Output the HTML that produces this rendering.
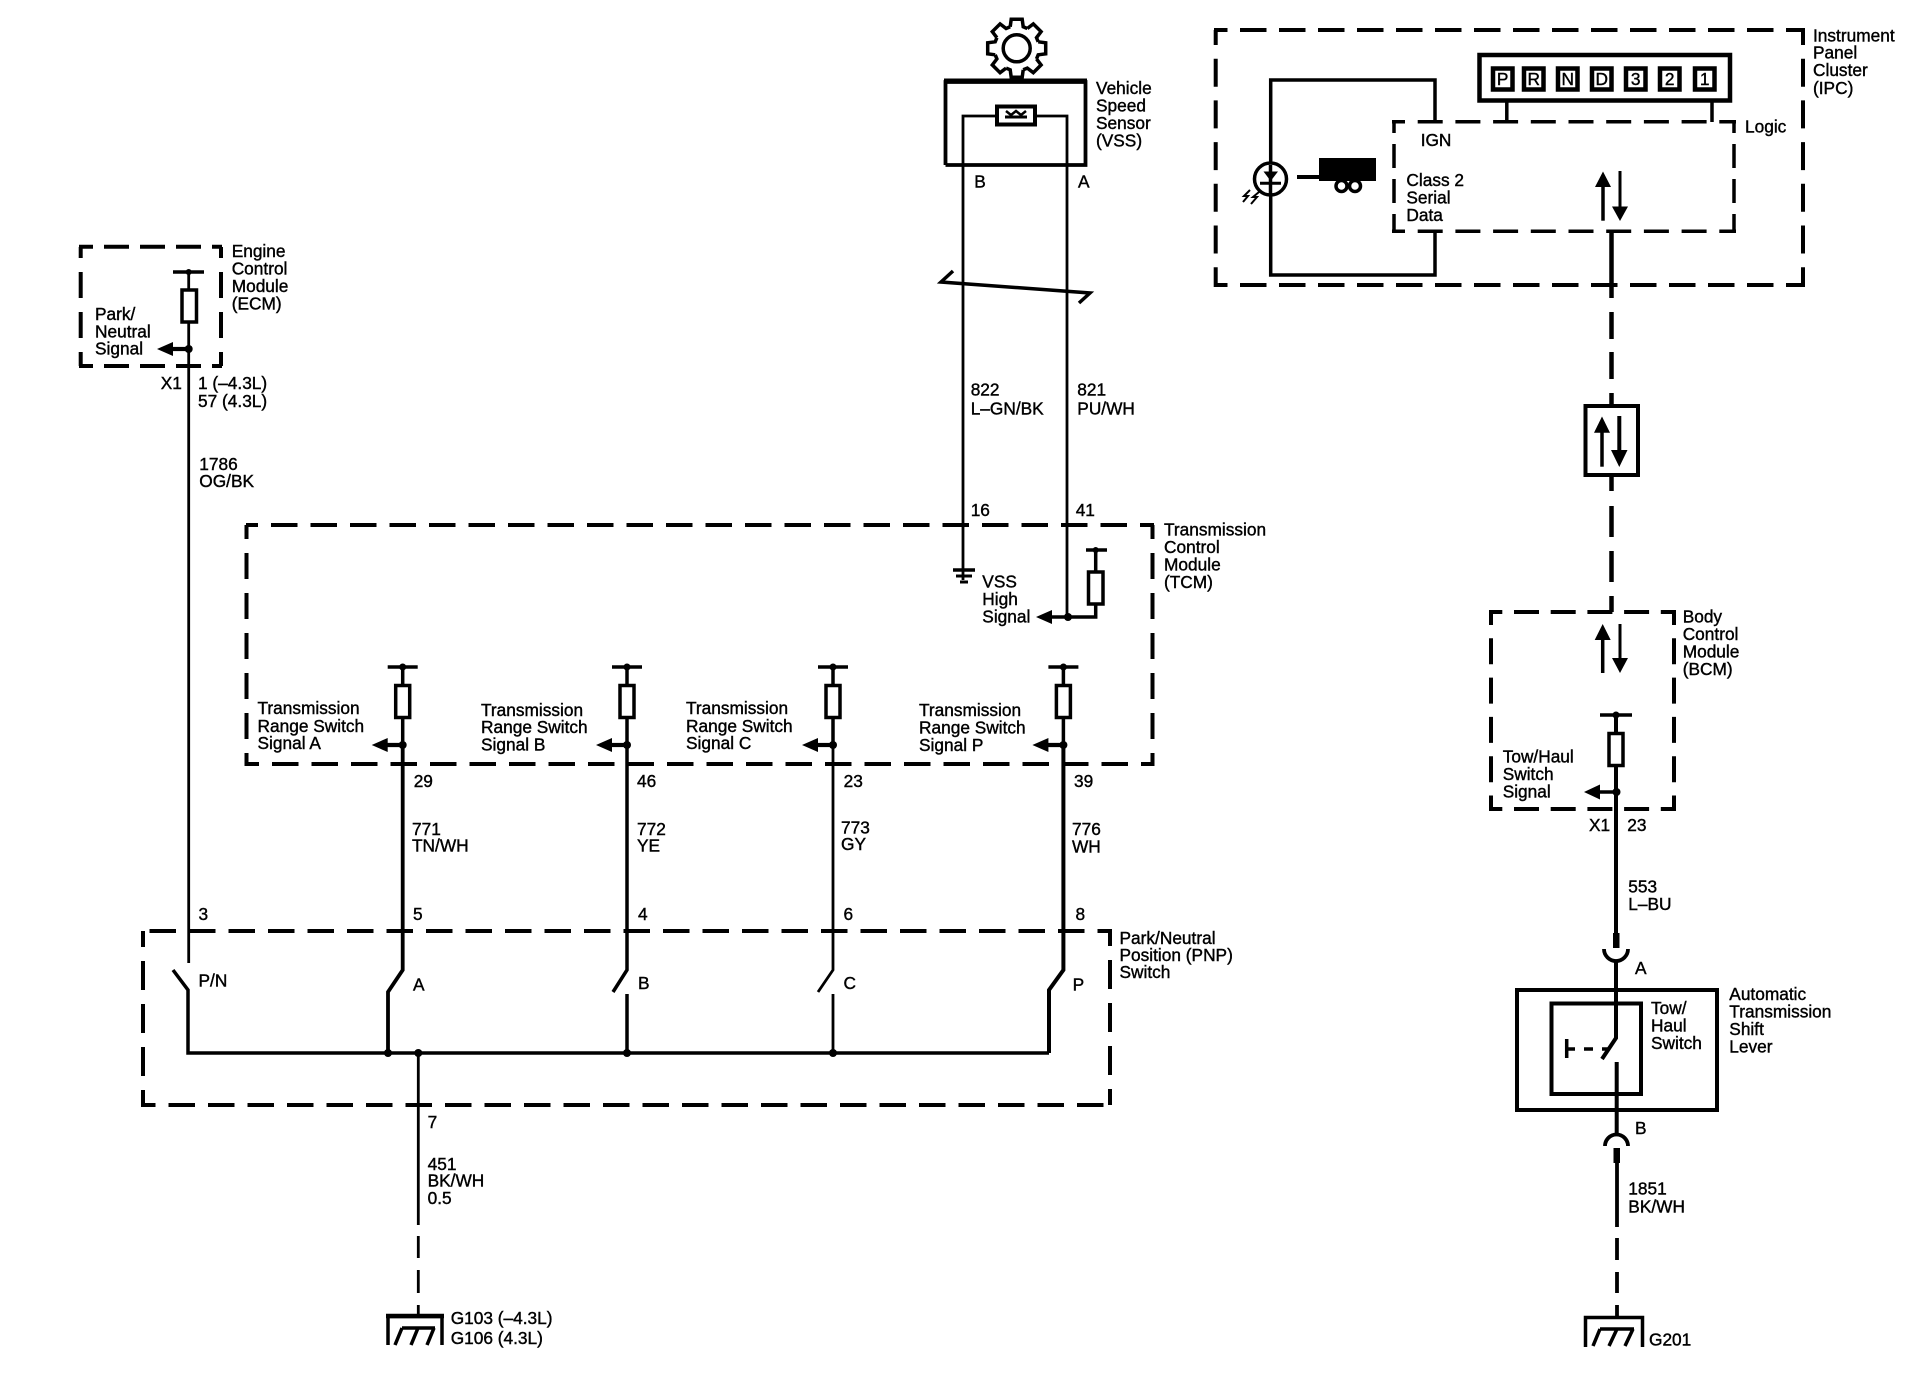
<!DOCTYPE html>
<html><head><meta charset="utf-8"><style>
html,body{margin:0;padding:0;background:#fff;width:1924px;height:1392px;overflow:hidden}
svg{display:block}
text{font-family:"Liberation Sans",sans-serif;font-size:17.3px;fill:#000;stroke:#000;stroke-width:.4}
.w{fill:none;stroke:#000;stroke-width:3.5}
.t{fill:none;stroke:#000;stroke-width:2.8}
.d{fill:none;stroke:#000;stroke-width:4}
</style></head><body>
<svg width="1924" height="1392" viewBox="0 0 1924 1392" xmlns="http://www.w3.org/2000/svg">
<defs>
<g id="pull">
<path class="w" d="M-15 0H15M0 0V18M0 51V79"/><circle cx="0" cy="0" r="3.500" fill="#000"/>
<rect x="-7" y="18.500" width="14" height="32" fill="#fff" stroke="#000" stroke-width="3.500"/>
<path d="M-16 78H0" fill="none" stroke="#000" stroke-width="4.200"/><path d="M-31 78L-15 71V85Z" fill="#000"/><circle cx="0" cy="78" r="4" fill="#000"/>
</g>
<path id="tooth" fill="none" stroke="#000" stroke-width="3.500" d="M-6.500 -21.500L-5.500 -29H5.500L6.500 -21.500L10.600 -19.800"/>
</defs>

<!-- gear -->
<g transform="translate(1016.700 48.300)">
<use href="#tooth"/><use href="#tooth" transform="rotate(45)"/><use href="#tooth" transform="rotate(90)"/><use href="#tooth" transform="rotate(135)"/><use href="#tooth" transform="rotate(180)"/><use href="#tooth" transform="rotate(225)"/><use href="#tooth" transform="rotate(270)"/><use href="#tooth" transform="rotate(315)"/>
<circle r="13.500" fill="none" stroke="#000" stroke-width="3.500"/>
</g>

<!-- VSS -->
<path d="M945.500 165V82H1085.500V165H945.500" fill="none" stroke="#000" stroke-width="3.800"/>
<path d="M944 81H1087" stroke="#000" stroke-width="5"/>
<path class="t" d="M963 580V116H1067V617"/>
<rect x="997" y="106.500" width="38" height="18" fill="#fff" stroke="#000" stroke-width="4"/>
<path d="M1005 117H1027" stroke="#000" stroke-width="3"/>
<path d="M1006 111L1011 115L1016 111L1021 115L1026 111" fill="none" stroke="#000" stroke-width="2.500"/>
<path class="w" d="M953 271L941 282L1090 293L1079 303"/>
<path d="M953 570H975" stroke="#000" stroke-width="3.500"/><path d="M956 576H972" stroke="#000" stroke-width="3"/><path d="M960 582H968" stroke="#000" stroke-width="3"/>

<!-- VSS high pull -->
<path class="w" d="M1086 550H1107M1095.700 550V572M1095.700 604V617H1051"/>
<circle cx="1095.700" cy="550" r="3" fill="#000"/>
<rect x="1088.500" y="572" width="14.500" height="32" fill="#fff" stroke="#000" stroke-width="3.500"/>
<path d="M1036 617L1052 610V624Z" fill="#000"/><circle cx="1068" cy="617" r="4" fill="#000"/>

<!-- ECM -->
<path class="d" d="M80.700 366V247" stroke-dasharray="26 14" stroke-dashoffset="12"/>
<path class="d" d="M221 366V247" stroke-dasharray="26 14" stroke-dashoffset="12"/>
<path class="d" d="M79 246.700H222" stroke-dasharray="25 11" stroke-dashoffset="11"/>
<path class="d" d="M79 366H222" stroke-dasharray="25 11" stroke-dashoffset="11"/>
<path class="w" d="M173 272H204" stroke-width="4"/>
<path class="t" d="M188.700 272V290M188.700 322V963"/>
<circle cx="188.700" cy="272" r="3" fill="#000"/>
<rect x="182" y="290" width="14.500" height="32" fill="#fff" stroke="#000" stroke-width="3.500"/>
<path d="M172 349H188" fill="none" stroke="#000" stroke-width="4.200"/><path d="M157 349L173 342V356Z" fill="#000"/><circle cx="188.700" cy="349" r="4" fill="#000"/>

<!-- TCM -->
<path class="d" d="M1154 525H246" stroke-dasharray="26.500 13" stroke-dashoffset="12.500"/>
<path class="d" d="M245 764H1154" stroke-dasharray="26.500 13" stroke-dashoffset="12.500"/>
<path class="d" d="M246.500 525V766" stroke-dasharray="26 14" stroke-dashoffset="12"/>
<path class="d" d="M1152.500 525V766" stroke-dasharray="26 14" stroke-dashoffset="12"/>

<use href="#pull" x="402.700" y="667"/><use href="#pull" x="627" y="667"/><use href="#pull" x="833" y="667"/><use href="#pull" x="1063.400" y="667"/>
<path d="M402.700 745V970L388 992V1053" fill="none" stroke="#000" stroke-width="3.800"/>
<path d="M627 745V970L613 992M627 994V1053" fill="none" stroke="#000" stroke-width="3.500"/>
<path d="M833 745V970L818 992M833 994V1053" fill="none" stroke="#000" stroke-width="2.800"/>
<path d="M1063.400 745V970L1049 990V1053" fill="none" stroke="#000" stroke-width="4"/>

<!-- PNP -->
<path class="d" d="M143 1105V931" stroke-dasharray="29 14" stroke-dashoffset="14"/>
<path class="d" d="M1110 931V1105" stroke-dasharray="29 14" stroke-dashoffset="14"/>
<path class="d" d="M1112 931H141" stroke-dasharray="26.500 13" stroke-dashoffset="12"/>
<path class="d" d="M141 1105H1112" stroke-dasharray="26.500 13" stroke-dashoffset="12"/>
<path class="w" d="M173 970L188 990V1053H1049"/>
<circle cx="388" cy="1053" r="4" fill="#000"/><circle cx="418.300" cy="1053" r="4" fill="#000"/><circle cx="627" cy="1053" r="4" fill="#000"/><circle cx="833" cy="1053" r="4" fill="#000"/>
<path d="M418.300 1053V1225M418.300 1236V1258M418.300 1270V1293M418.300 1305V1316" stroke="#000" stroke-width="2.800" fill="none"/>
<path class="w" d="M388 1345V1316.500H442V1345"/>
<path d="M386 1316H444" stroke="#000" stroke-width="4.500"/>
<path d="M402 1328H435M402 1328L395 1345M418 1328L411 1345M434 1328L427 1345" fill="none" stroke="#000" stroke-width="3.500"/>

<!-- IPC -->
<path class="d" d="M1214 30H1805" stroke-dasharray="26.500 12.500" stroke-dashoffset="13"/>
<path class="d" d="M1214 285H1805" stroke-dasharray="26.500 12.500" stroke-dashoffset="13"/>
<path class="d" d="M1215.700 30V287" stroke-dasharray="28 13.700" stroke-dashoffset="13"/>
<path class="d" d="M1803 30V287" stroke-dasharray="28 13.700" stroke-dashoffset="13"/>
<rect x="1479.500" y="55" width="250.500" height="45.500" fill="none" stroke="#000" stroke-width="4.500"/>
<g fill="#fff" stroke="#000" stroke-width="4.500">
<rect x="1493" y="68.500" width="19.500" height="21"/><rect x="1524" y="68.500" width="19.500" height="21"/><rect x="1558" y="68.500" width="19.500" height="21"/><rect x="1592" y="68.500" width="19.500" height="21"/><rect x="1626" y="68.500" width="19.500" height="21"/><rect x="1660" y="68.500" width="19.500" height="21"/><rect x="1695" y="68.500" width="19.500" height="21"/>
</g>
<path class="w" d="M1506.800 100V122M1712 100V122"/>
<path d="M1392 121.700H1736" stroke="#000" stroke-width="3.500" stroke-dasharray="25 12.700" stroke-dashoffset="12" fill="none"/>
<path d="M1392 231.300H1736" stroke="#000" stroke-width="3.500" stroke-dasharray="25 12.700" stroke-dashoffset="12" fill="none"/>
<path d="M1394 120V233" stroke="#000" stroke-width="3.500" stroke-dasharray="24 11" stroke-dashoffset="11" fill="none"/>
<path d="M1734 120V233" stroke="#000" stroke-width="3.500" stroke-dasharray="24 11" stroke-dashoffset="11" fill="none"/>
<path class="w" d="M1435 122V80H1270.700V275H1435V231"/>
<circle cx="1270.500" cy="179" r="16" fill="#fff" stroke="#000" stroke-width="3.500"/>
<path d="M1270.500 165V195" stroke="#000" stroke-width="3.500"/>
<path d="M1263.500 171.500H1278L1270.700 181Z" fill="#000"/><path d="M1260 183.300H1281" stroke="#000" stroke-width="3"/>
<path d="M1250 190L1244 196L1248 196L1243 202M1259 192L1253 197L1257 197L1251 204" fill="none" stroke="#000" stroke-width="2"/>
<rect x="1319" y="158" width="57" height="23" fill="#000"/>
<path d="M1297 177H1320" stroke="#000" stroke-width="4"/>
<circle cx="1341.500" cy="186" r="5.500" fill="#fff" stroke="#000" stroke-width="3.500"/><circle cx="1355" cy="186" r="5.500" fill="#fff" stroke="#000" stroke-width="3.500"/>
<path d="M1603 220.700V186" stroke="#000" stroke-width="3.500"/><path d="M1603 171.500L1611 187H1595Z" fill="#000"/>
<path d="M1620 171V207" stroke="#000" stroke-width="3"/><path d="M1620 221L1628 206.500H1612Z" fill="#000"/>

<!-- serial data -->
<path d="M1611.500 231V298M1611.500 312V339M1611.500 352V379M1611.500 393V405M1611.500 477V491M1611.500 506V537M1611.500 551V582M1611.500 596V612" stroke="#000" stroke-width="4.500" fill="none"/>
<rect x="1585.500" y="406" width="52.500" height="69" fill="none" stroke="#000" stroke-width="4"/>
<path d="M1602 466.700V431" stroke="#000" stroke-width="3.500"/><path d="M1602 416.500L1610 432.700H1594Z" fill="#000"/>
<path d="M1619.300 416V451" stroke="#000" stroke-width="4"/><path d="M1619.300 467L1627.500 450H1611Z" fill="#000"/>

<!-- BCM -->
<path class="d" d="M1489 612H1676" stroke-dasharray="25 11.700" stroke-dashoffset="11.700"/>
<path class="d" d="M1489 809H1676" stroke-dasharray="25 11.700" stroke-dashoffset="11.700"/>
<path class="d" d="M1491 612V811" stroke-dasharray="26 13.300" stroke-dashoffset="13"/>
<path class="d" d="M1674 612V811" stroke-dasharray="26 13.300" stroke-dashoffset="13"/>
<path d="M1602.700 673V638" stroke="#000" stroke-width="3.500"/><path d="M1602.700 624L1610.700 640H1594.700Z" fill="#000"/>
<path d="M1620 624V659" stroke="#000" stroke-width="3"/><path d="M1620 673L1628 658H1612Z" fill="#000"/>
<path class="w" d="M1600 715H1632"/><circle cx="1616" cy="715" r="3.500" fill="#000"/>
<path d="M1616 715V733M1616 766V934" stroke="#000" stroke-width="4" fill="none"/>
<rect x="1609" y="733.500" width="14" height="32" fill="#fff" stroke="#000" stroke-width="3.500"/>
<path class="w" d="M1600 792H1616" stroke-width="4"/><path d="M1584 792L1600 784.500V799.500Z" fill="#000"/><circle cx="1616.500" cy="792" r="4" fill="#000"/>
<rect x="1613" y="933" width="6.500" height="15" fill="#000"/>
<path d="M1604 949A12 12 0 0 0 1628 949" fill="none" stroke="#000" stroke-width="3.800"/>
<path d="M1616 960V1038L1602 1059" fill="none" stroke="#000" stroke-width="4"/>
<rect x="1517" y="990" width="200" height="120" fill="none" stroke="#000" stroke-width="4"/>
<rect x="1551.500" y="1003.500" width="89.500" height="90.500" fill="none" stroke="#000" stroke-width="4"/>
<path d="M1616.700 1062V1135" fill="none" stroke="#000" stroke-width="4"/>
<path d="M1566.700 1039V1058M1566 1049H1575M1584 1049H1593M1602 1049H1608" fill="none" stroke="#000" stroke-width="3.500"/>
<path d="M1605 1146A11.500 11.500 0 0 1 1628 1146" fill="none" stroke="#000" stroke-width="3.800"/>
<rect x="1613.500" y="1148" width="6.500" height="15" fill="#000"/>
<path d="M1617 1163V1227M1617 1238V1260M1617 1272V1293M1617 1305V1317" fill="none" stroke="#000" stroke-width="3.800"/>
<path class="w" d="M1585.500 1347V1317.500H1642.500V1347" stroke-width="4"/>
<path d="M1600 1329H1634M1600 1329L1593 1346M1617 1329L1609 1346M1633 1329L1625 1346" fill="none" stroke="#000" stroke-width="3.500"/>

<!-- text -->
<text x="231.700" y="257">Engine</text><text x="231.700" y="274.500">Control</text><text x="231.700" y="292">Module</text><text x="231.700" y="309.500">(ECM)</text>
<text x="95" y="320">Park/</text><text x="95" y="337.500">Neutral</text><text x="95" y="354.500">Signal</text>
<text x="160.700" y="389">X1</text><text x="198" y="389">1 (–4.3L)</text><text x="198" y="407">57 (4.3L)</text>
<text x="199.300" y="470">1786</text><text x="199.300" y="487">OG/BK</text>

<text x="1096" y="94">Vehicle</text><text x="1096" y="111.700">Speed</text><text x="1096" y="129">Sensor</text><text x="1096" y="146.700">(VSS)</text>
<text x="974.300" y="187.700">B</text><text x="1078" y="187.700">A</text>
<text x="970.700" y="395.700">822</text><text x="970.700" y="414.300">L–GN/BK</text>
<text x="1077.300" y="395.700">821</text><text x="1077.300" y="414.300">PU/WH</text>
<text x="970.700" y="516">16</text><text x="1075.700" y="516">41</text>
<text x="982.300" y="587.500">VSS</text><text x="982.300" y="605">High</text><text x="982.300" y="622.700">Signal</text>
<text x="1164" y="535.700">Transmission</text><text x="1164" y="553">Control</text><text x="1164" y="570.700">Module</text><text x="1164" y="588">(TCM)</text>

<text x="257.500" y="714">Transmission</text><text x="257.500" y="732">Range Switch</text><text x="257.500" y="749">Signal A</text>
<text x="481" y="716">Transmission</text><text x="481" y="733">Range Switch</text><text x="481" y="750.700">Signal B</text>
<text x="686" y="714">Transmission</text><text x="686" y="732">Range Switch</text><text x="686" y="749">Signal C</text>
<text x="919" y="716">Transmission</text><text x="919" y="733.500">Range Switch</text><text x="919" y="751">Signal P</text>

<text x="413.700" y="787">29</text><text x="637" y="787">46</text><text x="843.600" y="787">23</text><text x="1074" y="787">39</text>
<text x="412" y="835">771</text><text x="412" y="851.700">TN/WH</text>
<text x="637" y="835">772</text><text x="637" y="851.700">YE</text>
<text x="841" y="833.300">773</text><text x="841" y="850">GY</text>
<text x="1072" y="835">776</text><text x="1072" y="852.700">WH</text>
<text x="198.500" y="920">3</text><text x="413" y="920">5</text><text x="638" y="920">4</text><text x="843.500" y="920">6</text><text x="1075.500" y="920">8</text>
<text x="198.500" y="986.700">P/N</text><text x="413" y="990.700">A</text><text x="638" y="989">B</text><text x="843.500" y="989">C</text><text x="1072.600" y="990.700">P</text>
<text x="1119.500" y="944">Park/Neutral</text><text x="1119.500" y="961">Position (PNP)</text><text x="1119.500" y="978">Switch</text>
<text x="427.600" y="1128">7</text><text x="427.600" y="1170">451</text><text x="427.600" y="1186.700">BK/WH</text><text x="427.600" y="1204">0.5</text>
<text x="450.700" y="1324">G103 (–4.3L)</text><text x="450.700" y="1344">G106 (4.3L)</text>

<text x="1813" y="41.300">Instrument</text><text x="1813" y="58.700">Panel</text><text x="1813" y="76">Cluster</text><text x="1813" y="94">(IPC)</text>
<g text-anchor="middle">
<text x="1502.700" y="85">P</text><text x="1533.700" y="85">R</text><text x="1567.700" y="85">N</text><text x="1601.700" y="85">D</text><text x="1635.700" y="85">3</text><text x="1669.700" y="85">2</text><text x="1704.700" y="85">1</text>
</g>
<text x="1745" y="132.700">Logic</text><text x="1420.700" y="146">IGN</text>
<text x="1406.400" y="186">Class 2</text><text x="1406.400" y="203.300">Serial</text><text x="1406.400" y="221">Data</text>

<text x="1682.700" y="622.700">Body</text><text x="1682.700" y="640">Control</text><text x="1682.700" y="657.300">Module</text><text x="1682.700" y="675">(BCM)</text>
<text x="1502.700" y="762.300">Tow/Haul</text><text x="1502.700" y="780">Switch</text><text x="1502.700" y="797.300">Signal</text>
<text x="1589" y="831">X1</text><text x="1627.300" y="831">23</text>
<text x="1628.300" y="892.300">553</text><text x="1628.300" y="910">L–BU</text>
<text x="1635" y="974">A</text>
<text x="1651" y="1014">Tow/</text><text x="1651" y="1031.700">Haul</text><text x="1651" y="1049">Switch</text>
<text x="1729.300" y="1000">Automatic</text><text x="1729.300" y="1017.700">Transmission</text><text x="1729.300" y="1035">Shift</text><text x="1729.300" y="1052.300">Lever</text>
<text x="1635" y="1134">B</text>
<text x="1628.300" y="1194.300">1851</text><text x="1628.300" y="1212.300">BK/WH</text>
<text x="1649" y="1345.700">G201</text>
</svg>
</body></html>
